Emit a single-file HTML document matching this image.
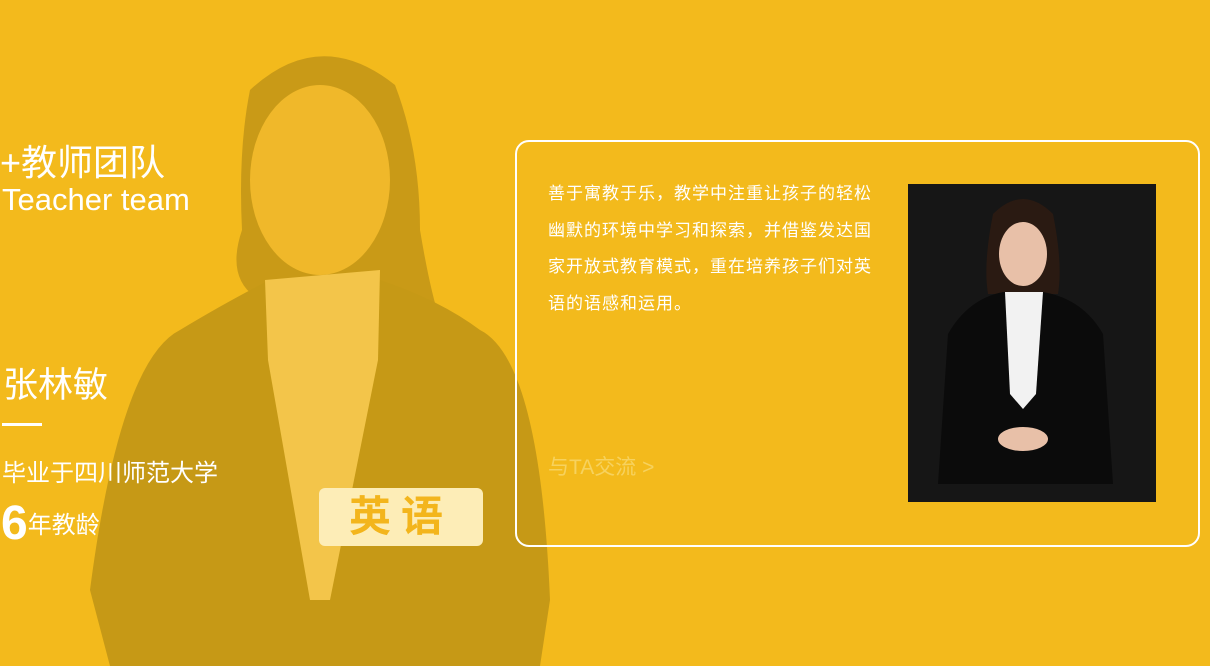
<!DOCTYPE html>
<html><head><meta charset="utf-8"><style>
body{margin:0;width:1210px;height:666px;overflow:hidden;background:#F3BA1C;font-family:"Liberation Sans","Noto Sans CJK SC",sans-serif;position:relative;color:#fff}
.a{position:absolute;white-space:nowrap}
</style></head><body>
<svg class="a" style="left:0;top:0" width="600" height="666">
<path d="M250 90 Q320 25 395 85 Q420 150 420 230 Q430 290 440 320 L380 300 L260 300 Q225 280 242 230 Q238 150 250 90Z" fill="#C99A17"/>
<path d="M180 330 Q230 300 270 280 L380 280 Q440 300 480 330 Q540 360 550 600 L540 666 L110 666 L90 590 Q120 360 180 330Z" fill="#C69916"/>
<ellipse cx="320" cy="180" rx="70" ry="95" fill="#F0B82A"/>
<path d="M265 280 L380 270 L378 360 L330 600 L310 600 L268 360Z" fill="#F3C54A"/>
</svg>
<div class="a" style="left:0;top:134px;font-size:36px">+教师团队</div>
<div class="a" style="left:2px;top:182px;font-size:31px;font-weight:300">Teacher team</div>
<div class="a" style="left:3px;top:357px;font-size:35px">张林敏</div>
<div class="a" style="left:2px;top:423px;width:40px;height:3px;background:#fff"></div>
<div class="a" style="left:2px;top:453px;font-size:24px">毕业于四川师范大学</div>
<div class="a" style="left:1px;top:496px;font-size:24px"><span style="font-size:48px;font-weight:bold;vertical-align:-6px">6</span>年教龄</div>
<div class="a" style="left:319px;top:488px;width:164px;height:58px;background:#FDEDB7;border-radius:6px;color:#F3B51C;font-size:42px;font-weight:bold;text-align:center;line-height:58px;letter-spacing:10px">英语</div>
<div class="a" style="left:515px;top:140px;width:681px;height:403px;border:2.5px solid #fff;border-radius:14px"></div>
<div class="a" style="left:548px;top:176px;font-size:17px;line-height:36.7px;letter-spacing:1px">善于寓教于乐，教学中注重让孩子的轻松<br>幽默的环境中学习和探索，并借鉴发达国<br>家开放式教育模式，重在培养孩子们对英<br>语的语感和运用。</div>
<div class="a" style="left:548px;top:451px;font-size:21px;color:#F7D25E">与TA交流 &gt;</div>
<svg class="a" style="left:908px;top:184px" width="248" height="318">
<rect width="248" height="318" fill="#161616"/>
<path d="M85 30 Q115 0 145 30 Q155 80 150 110 L80 110 Q75 80 85 30Z" fill="#2a1a12"/>
<ellipse cx="115" cy="70" rx="24" ry="32" fill="#e8c0a8"/>
<path d="M40 150 Q60 115 95 108 L135 108 Q175 115 195 150 L205 300 L30 300Z" fill="#0b0b0b"/>
<path d="M97 108 L135 108 L128 210 L115 225 L102 210Z" fill="#f2f2f2"/>
<ellipse cx="115" cy="255" rx="25" ry="12" fill="#e8c0a8"/>
</svg>
</body></html>
